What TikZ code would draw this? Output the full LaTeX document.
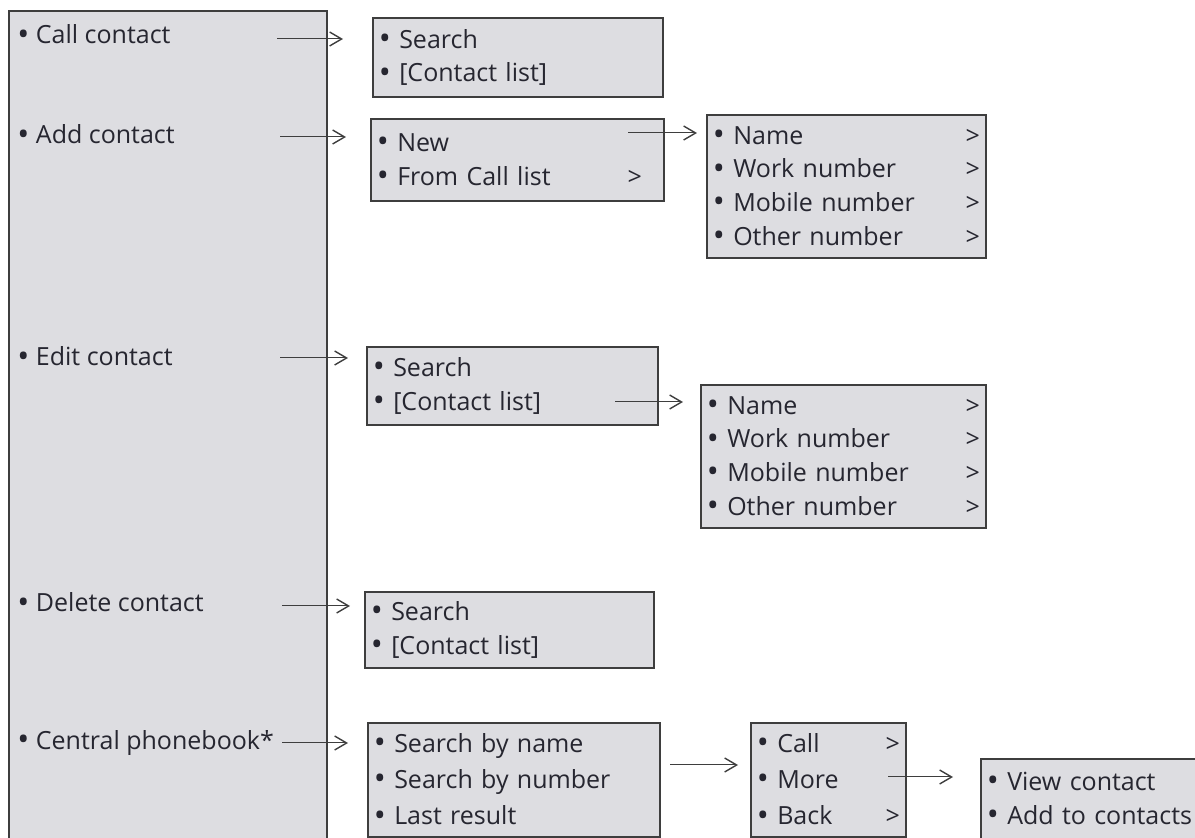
\documentclass[tikz,border=0pt]{standalone}
\usepackage{fontspec}
\setmainfont{Open Sans}
\usetikzlibrary{arrows.meta}
\definecolor{panelgray}{RGB}{221,221,225}
\definecolor{edgegray}{RGB}{62,62,62}
\definecolor{inkgray}{RGB}{38,38,48}
\newcommand\menufont{\fontsize{12.5}{16.9}\selectfont}
\newcommand\bul{\raisebox{-0.6pt}{\fontsize{16}{16}\selectfont\textbullet}\ }
\newcommand\sub{\hfill>}
\tikzset{
  menu/.style={draw=edgegray, fill=panelgray, line width=0.9pt, anchor=north west,
    inner xsep=3pt, inner ysep=2pt, align=left, font=\menufont, text=inkgray},
  item/.style={anchor=west, inner sep=0pt, font=\menufont, text=inkgray},
  nav/.style={draw=edgegray, line width=0.5pt, -{Straight Barb[length=6pt,width=7pt,line width=0.7pt]}}
}
\begin{document}
\begin{tikzpicture}[x=0.5pt, y=-0.5pt]
			\useasboundingbox (0,0) rectangle (1195,838);
			\clip (0,0) rectangle (1195,838);

			% Draw main menu
			\node[menu, minimum width=159pt, minimum height=460pt] (main) at (8,10) {};
			\node[item] (callc) at (17,35) {\bul Call contact};
			\node[item] (addc) at (17,135) {\bul Add contact};
			\node[item] (editc) at (17,357) {\bul Edit contact};
			\node[item] (delc) at (17,603) {\bul Delete contact};
			\node[item] (centc) at (17,743) {\bul Central phonebook*};

			% Draw sub menus
			\node[menu, text width=139pt, minimum height=39.5pt] (callA) at (372,17)
				{\bul Search\\ \bul [Contact list]};
			\node[menu, text width=140.5pt, minimum height=41pt] (addA) at (370,118)
				{\bul New\\ \bul From Call list\sub\hspace*{8pt}};
			\node[menu, text width=133.5pt, minimum height=71.5pt] (fieldsA) at (706,114)
				{\bul Name\sub\\ \bul Work number\sub\\
				 \bul Mobile number\sub\\ \bul Other number\sub};
			\node[menu, text width=139.5pt, minimum height=39pt] (editA) at (366,346)
				{\bul Search\\ \bul [Contact list]};
			\node[menu, text width=136.5pt, minimum height=71.5pt] (fieldsB) at (700,384)
				{\bul Name\sub\\ \bul Work number\sub\\
				 \bul Mobile number\sub\\ \bul Other number\sub};
			\node[menu, text width=138.5pt, minimum height=38pt] (delA) at (364,591)
				{\bul Search\\ \bul [Contact list]};
			\node[menu, text width=140pt, minimum height=57pt] (centA) at (367,722)
				{\bul Search by name\\[1.2pt] \bul Search by number\\[1.2pt]
				 \bul Last result};
			\node[menu, text width=71.5pt, minimum height=57pt] (hitA) at (750,722)
				{\bul Call\sub\\[1.2pt] \bul More\\[1.2pt] \bul Back\sub};
			\node[menu, text width=124pt, minimum height=40pt] (viewA) at (980,758)
				{\bul View contact\\ \bul Add to contacts};

			% Draw arrows
			\coordinate (s1) at (277,39);
			\coordinate (s2) at (280,137);
			\coordinate (s3) at (280,358);
			\coordinate (s4) at (282,606);
			\coordinate (s5) at (282,743);
			\coordinate (s6) at (628,133);
			\coordinate (s7) at (615,402);
			\coordinate (s8) at (670,765);
			\coordinate (s9) at (888,777);
			\foreach \s/\t/\g in {s1/callA/14.5, s2/addA/12, s3/editA/9, s4/delA/7, s5/centA/9.5,
				s6/fieldsA/4.5, s7/fieldsB/8.5, s8/hitA/6, s9/viewA/13.5}
				\draw[nav] (\s) -- ([xshift=-\g pt]\s -| \t.west);
		\end{tikzpicture}
\end{document}
